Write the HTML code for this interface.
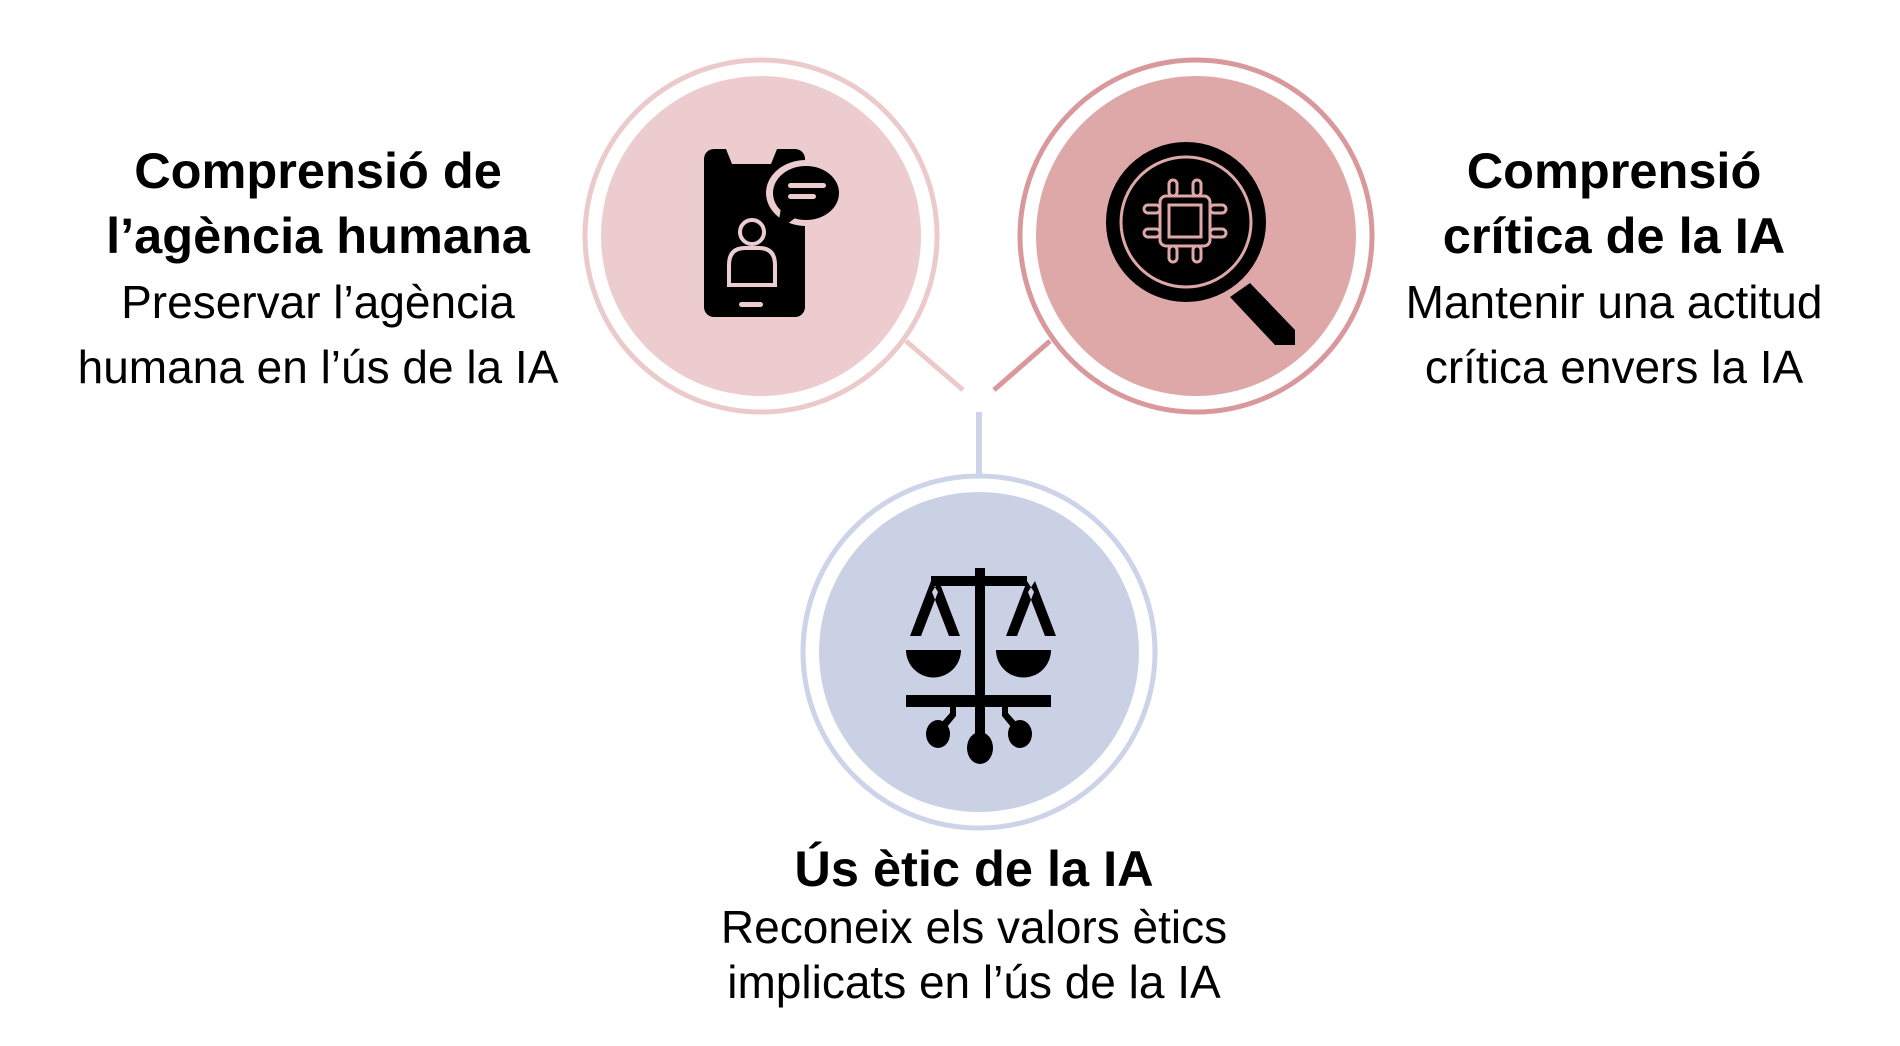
<!DOCTYPE html>
<html><head><meta charset="utf-8"><style>
body{margin:0;width:1900px;height:1046px;background:#fff;position:relative;overflow:hidden;font-family:"Liberation Sans",Arial,sans-serif;color:#000}
.t{position:absolute;white-space:nowrap;transform:translateX(-50%);line-height:1}
.b{font-weight:bold;font-size:50.5px}
.r{font-size:46px}
svg{position:absolute;left:0;top:0}
</style></head><body>
<svg width="1900" height="1046" viewBox="0 0 1900 1046">
<g transform="translate(-5,0)">
  <line x1="911" y1="341" x2="968" y2="390" stroke="#eccacb" stroke-width="5"/>
  <line x1="1055" y1="341" x2="999" y2="390" stroke="#d9999c" stroke-width="5"/>
  <line x1="984" y1="412" x2="984" y2="474" stroke="#cdd3e8" stroke-width="6"/>
  <circle cx="766" cy="236" r="176" fill="#fff" stroke="#eccacb" stroke-width="5"/>
  <circle cx="766" cy="236" r="160" fill="#ecccce"/>
  <circle cx="1201" cy="236" r="176" fill="#fff" stroke="#d9999c" stroke-width="5"/>
  <circle cx="1201" cy="236" r="160" fill="#dfa8a8"/>
  <circle cx="984" cy="652" r="176" fill="#fff" stroke="#cdd3e8" stroke-width="5"/>
  <circle cx="984" cy="652" r="160" fill="#cbd1e5"/>
  <!-- phone -->
  <rect x="709" y="149" width="101" height="168" rx="10" fill="#000"/>
  <path d="M731 149 L737 164 L776 164 L782 149Z" fill="#ecccce"/>
  <rect x="744" y="302" width="24" height="5" rx="2.5" fill="#ecccce"/>
  <ellipse cx="811" cy="193" rx="40" ry="33" fill="#ecccce"/>
  <ellipse cx="811" cy="193" rx="33" ry="27" fill="#000"/>
  <path d="M786 208 L782 232 L800 218Z" fill="#000"/>
  <rect x="793" y="183" width="38" height="5" rx="2.5" fill="#ecccce"/>
  <rect x="793" y="194" width="28" height="5" rx="2.5" fill="#ecccce"/>
  <circle cx="757" cy="232" r="12" fill="none" stroke="#ecccce" stroke-width="4"/>
  <path d="M734 285 L734 265 Q734 248 750 248 L764 248 Q780 248 780 265 L780 285Z" fill="none" stroke="#ecccce" stroke-width="4"/>
  <!-- magnifier -->
  <path d="M1255 283 L1300 330 L1300 345 L1280 345 L1235 297Z" fill="#000"/>
  <circle cx="1191" cy="222" r="80" fill="#000"/>
  <circle cx="1191" cy="222" r="65" fill="none" stroke="#dfa8a8" stroke-width="3"/>
  <g fill="none" stroke="#dfa8a8" stroke-width="3">
    <rect x="1165" y="196" width="50" height="50" rx="6"/>
    <rect x="1174" y="205" width="32" height="32"/>
    <rect x="1174" y="180" width="8" height="16" rx="4"/><rect x="1198" y="180" width="8" height="16" rx="4"/>
    <rect x="1174" y="246" width="8" height="16" rx="4"/><rect x="1198" y="246" width="8" height="16" rx="4"/>
    <rect x="1149" y="205" width="16" height="8" rx="4"/><rect x="1149" y="229" width="16" height="8" rx="4"/>
    <rect x="1215" y="205" width="16" height="8" rx="4"/><rect x="1215" y="229" width="16" height="8" rx="4"/>
  </g>
  <!-- scales -->
  <g fill="#000">
    <rect x="980" y="568" width="10" height="190"/>
    <rect x="936" y="576" width="96" height="10"/>
    <path d="M936 581 L915 636 L926 636 L943 592Z M944 581 L965 636 L954 636 L937 592Z"/>
    <path d="M1032 581 L1011 636 L1022 636 L1039 592Z M1040 581 L1061 636 L1050 636 L1033 592Z"/>
    <path d="M911 650 L966 650 A27 27 0 0 1 911 650Z"/>
    <path d="M1001 650 L1056 650 A27 27 0 0 1 1001 650Z"/>
    <rect x="911" y="695" width="145" height="12"/>
    <ellipse cx="985" cy="748" rx="13" ry="16"/>
    <ellipse cx="943" cy="734" rx="12" ry="14"/>
    <ellipse cx="1025" cy="734" rx="12" ry="14"/>
    <path d="M955 705 L961 705 L961 716 L952 727 L947 722 L955 713Z"/>
    <path d="M1007 705 L1013 705 L1013 713 L1021 722 L1016 727 L1007 716Z"/>
  </g>
</g>
</svg>
<div class="t b" style="left:318px;top:146px">Comprensió de</div>
<div class="t b" style="left:318px;top:211px">l’agència humana</div>
<div class="t r" style="left:318px;top:279px">Preservar l’agència</div>
<div class="t r" style="left:318px;top:344px">humana en l’ús de la IA</div>
<div class="t b" style="left:1614px;top:146px">Comprensió</div>
<div class="t b" style="left:1614px;top:211px">crítica de la IA</div>
<div class="t r" style="left:1614px;top:279px">Mantenir una actitud</div>
<div class="t r" style="left:1614px;top:344px">crítica envers la IA</div>
<div class="t b" style="left:974px;top:844px">Ús ètic de la IA</div>
<div class="t r" style="left:974px;top:904px">Reconeix els valors ètics</div>
<div class="t r" style="left:974px;top:959px">implicats en l’ús de la IA</div>
</body></html>
